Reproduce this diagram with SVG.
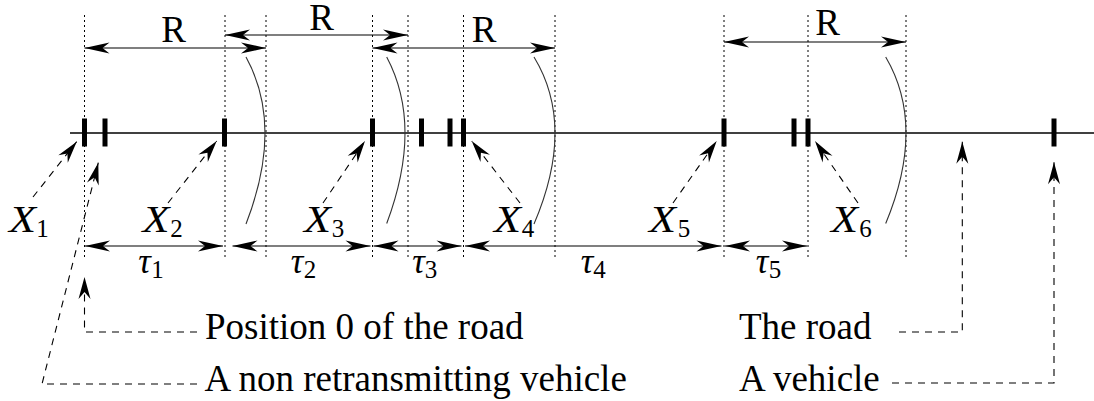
<svg xmlns="http://www.w3.org/2000/svg" width="1094" height="401" viewBox="0 0 1094 401">
<style>
.road{stroke:#000;stroke-width:1.6;fill:none}
.veh{fill:#000}
.dot{stroke:#000;stroke-width:1;stroke-dasharray:2,3;fill:none}
.dim{stroke:#000;stroke-width:1.2;fill:none;marker-start:url(#ah);marker-end:url(#ah)}
.lead{stroke:#000;stroke-width:1.1;stroke-dasharray:7,6;fill:none;marker-end:url(#sa)}
.arc{stroke:#333;stroke-width:1.1;fill:none}
.t{font-family:"Liberation Serif","Times New Roman",serif;font-size:37px;fill:#000}
.r{font-family:"Liberation Serif","Times New Roman",serif;font-size:37px;fill:#000;text-anchor:middle}
.m{font-family:"Liberation Serif","Times New Roman",serif;font-size:37px;font-style:italic;fill:#000}
.tau{font-family:"Liberation Serif","Times New Roman",serif;font-size:35px;font-style:italic;fill:#000;text-anchor:middle}
.s{font-family:"Liberation Serif","Times New Roman",serif;font-size:25px;fill:#000;text-anchor:middle}
</style>
<defs>
<marker id="ah" viewBox="-26 -6 27 12" refX="0" refY="0" markerWidth="27" markerHeight="12" markerUnits="userSpaceOnUse" orient="auto-start-reverse">
<path d="M0,0 L-25,-5.5 L-18,0 L-25,5.5 Z" fill="#000"/>
</marker>
<marker id="sa" viewBox="-23 -7 24 14" refX="0" refY="0" markerWidth="24" markerHeight="14" markerUnits="userSpaceOnUse" orient="auto">
<path d="M0,0 L-22,-6 L-15,0 L-22,6 Z" fill="#000"/>
</marker>
</defs>
<g id="road">
<line class="road" x1="70" y1="133" x2="1094" y2="133"/>
</g>
<g id="vehicles">
<rect class="veh" x="82" y="118.5" width="5" height="28"/>
<rect class="veh" x="102.5" y="118.5" width="5" height="28"/>
<rect class="veh" x="222" y="118.5" width="5" height="28"/>
<rect class="veh" x="370" y="118.5" width="5" height="28"/>
<rect class="veh" x="419" y="118.5" width="5" height="28"/>
<rect class="veh" x="447.5" y="118.5" width="5" height="28"/>
<rect class="veh" x="461" y="118.5" width="5" height="28"/>
<rect class="veh" x="721.5" y="118.5" width="5" height="28"/>
<rect class="veh" x="791.5" y="118.5" width="5" height="28"/>
<rect class="veh" x="805.5" y="118.5" width="5" height="28"/>
<rect class="veh" x="1051.5" y="118.5" width="5" height="28"/>
</g>
<g id="guides">
<line class="dot" x1="84.5" y1="15" x2="84.5" y2="260"/>
<line class="dot" x1="225" y1="15" x2="225" y2="260"/>
<line class="dot" x1="266" y1="15" x2="266" y2="260"/>
<line class="dot" x1="372.5" y1="15" x2="372.5" y2="260"/>
<line class="dot" x1="408" y1="15" x2="408" y2="260"/>
<line class="dot" x1="463.5" y1="15" x2="463.5" y2="260"/>
<line class="dot" x1="555" y1="15" x2="555" y2="260"/>
<line class="dot" x1="724" y1="15" x2="724" y2="260"/>
<line class="dot" x1="808" y1="15" x2="808" y2="260"/>
<line class="dot" x1="906" y1="15" x2="906" y2="260"/>
</g>
<g id="ranges">
<path class="arc" d="M246,57 Q284,126 246,224"/>
<path class="arc" d="M386.7,57 Q423.3,126 386.7,223.5"/>
<path class="arc" d="M534,57 Q576,126 534,224"/>
<path class="arc" d="M885.7,57 Q926.3,126 885.7,223.5"/>
</g>
<g id="connectors">
<line class="dim" x1="84.5" y1="48" x2="266" y2="48"/>
<line class="dim" x1="225" y1="35" x2="408" y2="35"/>
<line class="dim" x1="372.5" y1="48" x2="555" y2="48"/>
<line class="dim" x1="724" y1="42" x2="906" y2="42"/>
<line class="dim" x1="85" y1="246" x2="223" y2="246"/>
<line class="dim" x1="232.5" y1="246" x2="370.5" y2="246"/>
<line class="dim" x1="373.5" y1="246" x2="461.5" y2="246"/>
<line class="dim" x1="465" y1="246" x2="721.5" y2="246"/>
<line class="dim" x1="725" y1="246" x2="807" y2="246"/>
<line class="lead" x1="33" y1="197" x2="76.7" y2="141.7"/>
<line class="lead" x1="168" y1="203" x2="216.7" y2="141"/>
<line class="lead" x1="323" y1="203" x2="365" y2="141"/>
<line class="lead" x1="520" y1="203" x2="471.7" y2="141"/>
<line class="lead" x1="673" y1="203" x2="716.7" y2="141"/>
<line class="lead" x1="858" y1="203" x2="815" y2="141"/>
<polyline class="lead" points="197,332 84.5,332 84.5,277"/>
<polyline class="lead" points="197,384 42,384 98.3,162.7"/>
<polyline class="lead" points="899,332 962.3,332 962.3,141.7"/>
<polyline class="lead" points="892,383 1054,383 1054,162.3"/>
</g>
<g id="labels">
<text class="r" x="173.5" y="42">R</text>
<text class="r" x="321.5" y="29.5">R</text>
<text class="r" x="484" y="42">R</text>
<text class="r" x="827.5" y="35">R</text>
<text class="m" x="9" y="232" textLength="27" lengthAdjust="spacingAndGlyphs">X</text>
<text class="s" x="42.5" y="237">1</text>
<text class="m" x="142.5" y="232" textLength="27" lengthAdjust="spacingAndGlyphs">X</text>
<text class="s" x="176.5" y="237">2</text>
<text class="m" x="304" y="232" textLength="27" lengthAdjust="spacingAndGlyphs">X</text>
<text class="s" x="338" y="237">3</text>
<text class="m" x="494" y="232" textLength="27" lengthAdjust="spacingAndGlyphs">X</text>
<text class="s" x="528" y="237">4</text>
<text class="m" x="649" y="232" textLength="27" lengthAdjust="spacingAndGlyphs">X</text>
<text class="s" x="684" y="237">5</text>
<text class="m" x="831" y="232" textLength="27" lengthAdjust="spacingAndGlyphs">X</text>
<text class="s" x="865.5" y="237">6</text>
<text class="tau" x="144.5" y="273">τ</text>
<text class="s" x="157.5" y="278">1</text>
<text class="tau" x="297" y="273">τ</text>
<text class="s" x="310" y="278">2</text>
<text class="tau" x="418.5" y="273">τ</text>
<text class="s" x="431" y="278">3</text>
<text class="tau" x="587" y="273">τ</text>
<text class="s" x="599.5" y="278">4</text>
<text class="tau" x="762" y="273">τ</text>
<text class="s" x="775" y="278">5</text>
</g>
<g id="legend">
<text class="t" x="205" y="339">Position 0 of the road</text>
<text class="t" x="204.5" y="391">A non retransmitting vehicle</text>
<text class="t" x="739" y="339">The road</text>
<text class="t" x="739" y="391">A vehicle</text>
</g>
</svg>
